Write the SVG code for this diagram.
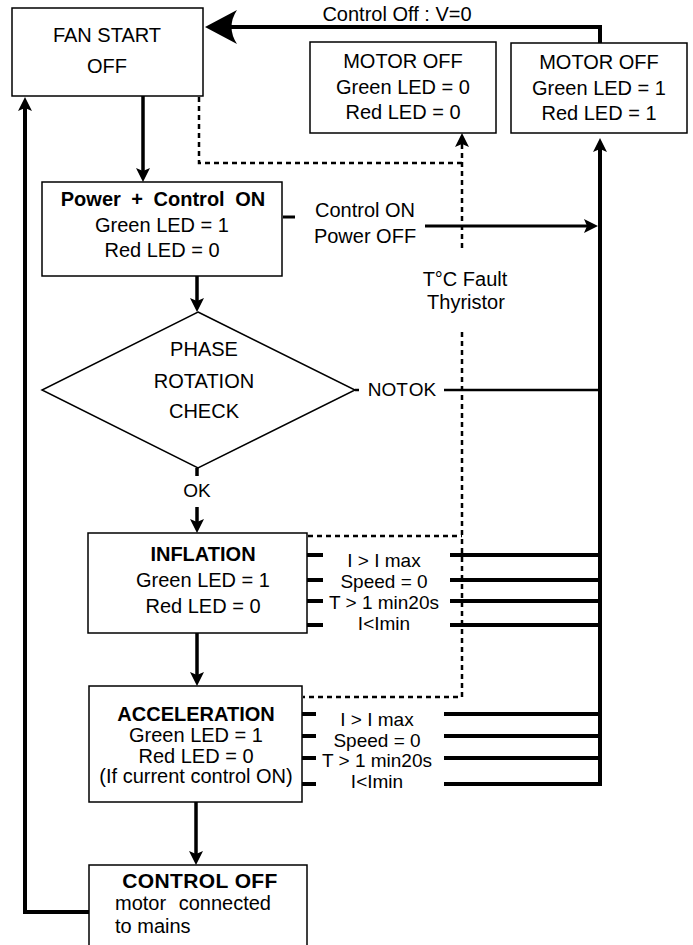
<svg xmlns="http://www.w3.org/2000/svg" width="693" height="945" viewBox="0 0 693 945">
<style>
text{font-family:"Liberation Sans",Arial,sans-serif;font-size:20px;fill:#000;text-anchor:middle}
.b{font-weight:bold}
.lbl{font-size:19px}
.box{fill:#fff;stroke:#000;stroke-width:1.5}
.ln{fill:none;stroke:#000;stroke-width:3.5}
.thk{fill:none;stroke:#000;stroke-width:4}
.thn{fill:none;stroke:#000;stroke-width:2.5}
.dash{fill:none;stroke:#000;stroke-width:2.5;stroke-dasharray:5 4}
</style>
<defs>
<marker id="ah" viewBox="0 0 14 14" refX="4" refY="7" markerWidth="14" markerHeight="14" markerUnits="userSpaceOnUse" orient="auto">
<path d="M0,0 L14,7 L0,14 L3,7 Z" fill="#000"/>
</marker>
<marker id="big" viewBox="0 0 32 34" refX="14" refY="17" markerWidth="32" markerHeight="34" markerUnits="userSpaceOnUse" orient="auto">
<path d="M0,0 L32,17 L0,34 Q11,17 0,0 Z" fill="#000"/>
</marker>
</defs>

<g id="connectors">
<path class="thk" d="M600,45 V27 H223" marker-end="url(#big)"/>
<path class="ln" d="M143,96 V172" marker-end="url(#ah)"/>
<path class="ln" d="M197,276 V302" marker-end="url(#ah)"/>
<path class="ln" d="M197,468 V476"/>
<path class="ln" d="M197,507 V523" marker-end="url(#ah)"/>
<path class="ln" d="M197,633 V676" marker-end="url(#ah)"/>
<path class="ln" d="M196,802 V855" marker-end="url(#ah)"/>
<path class="thk" d="M89,912 H25 V107" marker-end="url(#ah)"/>
<path class="thk" d="M600,786 V148" marker-end="url(#ah)"/>
<path class="ln" style="stroke-width:3" d="M425,226 H588" marker-end="url(#ah)"/>
<path class="ln" style="stroke-width:3" d="M283,217 H295"/>
<path class="thn" d="M355,390 H359"/>
<path class="thn" d="M444,390 H598"/>
<path class="thk" d="M307,555 H323 M307,580 H323 M307,601 H323 M307,625 H323"/>
<path class="thk" d="M450,555 H600 M450,580 H600 M450,601 H600 M450,625 H602"/>
<path class="thk" d="M302,714 H316 M302,736 H316 M302,758 H316 M302,784 H316"/>
<path class="thk" d="M444,714 H600 M444,736 H600 M444,758 H600 M444,784 H602"/>
<path class="dash" d="M199,97 V163 H462"/>
<path class="dash" d="M462,248 V143" marker-end="url(#ah)"/>
<path class="dash" d="M462,332 V697 H303"/>
<path class="dash" d="M308,536 H462"/>
</g>

<g id="label-control-off">
<text x="397" y="21">Control Off : V=0</text>
</g>

<g id="fan-start">
<rect class="box" x="12" y="8" width="191" height="88"/>
<text x="107" y="42">FAN START</text>
<text x="107" y="73">OFF</text>
</g>

<g id="motor-off-1">
<rect class="box" x="310" y="42" width="186" height="91"/>
<text x="403" y="68">MOTOR OFF</text>
<text x="403" y="94">Green LED = 0</text>
<text x="403" y="119">Red LED = 0</text>
</g>

<g id="motor-off-2">
<rect class="box" x="511" y="43" width="176" height="90"/>
<text x="599" y="69">MOTOR OFF</text>
<text x="599" y="95">Green LED = 1</text>
<text x="599" y="120">Red LED = 1</text>
</g>

<g id="power-control-on">
<rect class="box" x="42" y="182" width="240" height="94"/>
<text class="b" x="163" y="206" style="word-spacing:5px">Power + Control ON</text>
<text x="162" y="232">Green LED = 1</text>
<text x="162" y="257">Red LED = 0</text>
</g>

<g id="label-control-on">
<text x="365" y="217">Control ON</text>
<text x="365" y="243">Power OFF</text>
</g>

<g id="label-fault">
<text x="465" y="286">T°C Fault</text>
<text x="466" y="309">Thyristor</text>
</g>

<g id="phase-check">
<polygon class="box" points="198,312 355,390 198,468 42,390"/>
<text x="204" y="356">PHASE</text>
<text x="204" y="388">ROTATION</text>
<text x="204" y="418">CHECK</text>
</g>

<g id="label-not-ok">
<text class="lbl" x="402" y="396" style="word-spacing:-4px">NOT OK</text>
</g>
<g id="label-ok">
<text class="lbl" x="197" y="497">OK</text>
</g>

<g id="inflation">
<rect class="box" x="88" y="533" width="219" height="100"/>
<text class="b" x="203" y="561">INFLATION</text>
<text x="203" y="587">Green LED = 1</text>
<text x="203" y="613">Red LED = 0</text>
</g>

<g id="inflation-labels">
<text class="lbl" x="384" y="567">I &gt; I max</text>
<text class="lbl" x="384" y="588">Speed = 0</text>
<text class="lbl" x="384" y="609">T &gt; 1 min20s</text>
<text class="lbl" x="384" y="630">I&lt;Imin</text>
</g>

<g id="acceleration">
<rect class="box" x="89" y="686" width="213" height="116"/>
<text class="b" x="196" y="721">ACCELERATION</text>
<text x="196" y="742">Green LED = 1</text>
<text x="196" y="763">Red LED = 0</text>
<text x="196" y="783">(If current control ON)</text>
</g>

<g id="acceleration-labels">
<text class="lbl" x="377" y="726">I &gt; I max</text>
<text class="lbl" x="377" y="747">Speed = 0</text>
<text class="lbl" x="377" y="767">T &gt; 1 min20s</text>
<text class="lbl" x="377" y="788">I&lt;Imin</text>
</g>

<g id="control-off">
<rect class="box" x="89" y="865" width="218" height="90"/>
<text class="b" x="200" y="888" style="font-size:21px;letter-spacing:0.4px">CONTROL OFF</text>
<text x="115" y="910" style="text-anchor:start;word-spacing:7px">motor connected</text>
<text x="115" y="933" style="text-anchor:start">to mains</text>
</g>
</svg>
